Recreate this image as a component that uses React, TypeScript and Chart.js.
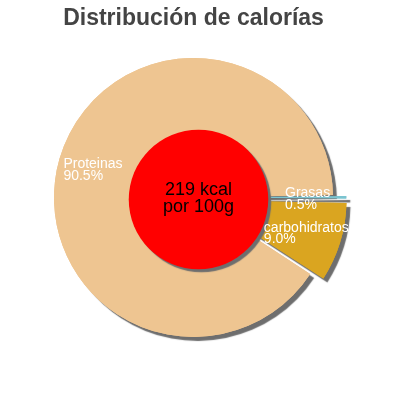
import React, { useEffect, useRef } from "react";
import { Chart, registerables } from "chart.js";

Chart.register(...registerables);

const title = "Distribución de calorías";
const categories = ["Grasas", "carbohidratos", "Proteinas"];
const percentages = [0.5, 9.0, 90.5];
const sliceColors = ["#7bc4d0", "#daa520", "#eec591"];
const explode = [27, 38, 0];
const kcal = 219;
const centerLines = [`${kcal} kcal`, "por 100g"];

const FONT = '"Liberation Sans", Arial, sans-serif';

const pieDecor = {
  id: "pieDecor",
  beforeDatasetsDraw(chart: any) {
    // shadow pass under the slices
    const ctx = chart.ctx;
    const arcs = chart.getDatasetMeta(0).data;
    ctx.save();
    ctx.shadowColor = "#6e6e6e";
    ctx.shadowBlur = 1;
    ctx.shadowOffsetX = 4;
    ctx.shadowOffsetY = 4;
    arcs.forEach((a: any) => a.draw(ctx));
    ctx.restore();
  },
  afterDatasetsDraw(chart: any) {
    const ctx = chart.ctx;
    const arcs = chart.getDatasetMeta(0).data;
    const { x, y, outerRadius } = arcs[0];
    const cx = x + 5;
    const cy = y + 2;
    const r = outerRadius * 0.5;

    // red centre disc
    ctx.save();
    ctx.shadowColor = "#6e6e6e";
    ctx.shadowBlur = 1;
    ctx.shadowOffsetX = 3;
    ctx.shadowOffsetY = 3;
    ctx.beginPath();
    ctx.arc(cx, cy, r, 0, Math.PI * 2);
    ctx.fillStyle = "#ff0000";
    ctx.fill();
    ctx.restore();

    ctx.save();
    ctx.textAlign = "center";
    ctx.textBaseline = "alphabetic";
    ctx.fillStyle = "#000";
    ctx.font = `18px ${FONT}`;
    ctx.fillText(centerLines[0], cx, cy - 4.5);
    ctx.fillText(centerLines[1], cx, cy + 12.5);

    // slice labels, left aligned block centred on the ring middle
    ctx.fillStyle = "#fff";
    ctx.font = `14px ${FONT}`;
    ctx.textAlign = "left";
    const rMid = (r + outerRadius) / 2;
    arcs.forEach((a: any, i: number) => {
      const mid = (a.startAngle + a.endAngle) / 2;
      const d = rMid + explode[i] * 0.35;
      const lines = [categories[i], percentages[i].toFixed(1) + "%"];
      const w = Math.max(...lines.map((t) => ctx.measureText(t).width));
      const lx = x + Math.cos(mid) * d - w / 2;
      const ly = y + Math.sin(mid) * d;
      ctx.fillText(lines[0], lx, ly);
      ctx.fillText(lines[1], lx, ly + 11.5);
    });
    ctx.restore();
  },
};

const App = () => {
  const canvasRef = useRef<HTMLCanvasElement>(null);
  const chartRef = useRef<Chart | null>(null);

  useEffect(() => {
    if (chartRef.current) {
      chartRef.current.destroy();
    }
    const ctx = canvasRef.current!.getContext("2d")!;
    chartRef.current = new Chart(ctx, {
      type: "pie",
      data: {
        labels: categories,
        datasets: [
          {
            data: percentages,
            backgroundColor: sliceColors,
            offset: explode,
            borderWidth: 0,
          },
        ],
      },
      options: {
        responsive: false,
        animation: false,
        rotation: 89,
        layout: {
          padding: { left: 0, right: 13, top: 0, bottom: 44 },
        },
        plugins: {
          legend: { display: false },
          tooltip: { enabled: false },
          title: {
            display: true,
            text: title,
            color: "#444444",
            font: { family: FONT, size: 23, weight: "bold", lineHeight: 1.2 },
            padding: { top: 5, bottom: 6.4 },
          },
        },
      },
      plugins: [pieDecor],
    });

    return () => {
      if (chartRef.current) {
        chartRef.current.destroy();
        chartRef.current = null;
      }
    };
  }, []);

  return (
    <div style={{ position: "absolute", left: 0, top: 0, width: 400, height: 400 }}>
      <canvas ref={canvasRef} width={400} height={400}></canvas>
    </div>
  );
};

export default App;
